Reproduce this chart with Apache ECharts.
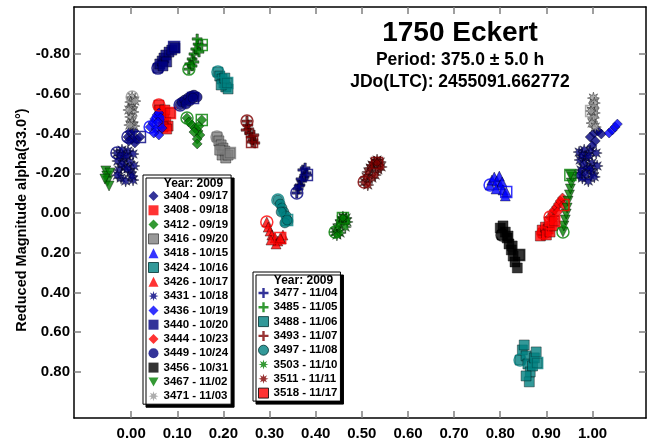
<!DOCTYPE html>
<html>
<head>
<meta charset="utf-8">
<script src="https://cdn.jsdelivr.net/npm/echarts@6/dist/echarts.min.js"></script>
<style>
  html, body { margin: 0; padding: 0; background: #fff; }
  #chart { width: 654px; height: 443px; }
</style>
</head>
<body>
<div id="chart"></div>
<script>
// tick labels
const xTicks = [0.0, 0.1, 0.2, 0.3, 0.4, 0.5, 0.6, 0.7, 0.8, 0.9, 1.0];
const yTicks = [-0.8, -0.6, -0.4, -0.2, 0.0, 0.2, 0.4, 0.6, 0.8];

// sessions, [phase, reduced mag]
const s3404 = [[-0.007,-0.383],[0.995,-0.383],[1.004,-0.403],[1.012,-0.413],[1.019,-0.398],[1.006,-0.363],[0.999,-0.338],[-0.003,-0.408],[0.006,-0.413],[0.002,-0.373],[0.008,-0.353],[-0.005,-0.363],[0.012,-0.373],[0.019,-0.383]];
const s3408 = [[0.060,-0.544],[0.062,-0.519],[0.067,-0.494],[0.071,-0.474],[0.075,-0.458],[0.080,-0.438],[0.069,-0.433],[0.077,-0.423],[0.073,-0.519],[0.084,-0.504]];
const s3412 = [[0.121,-0.479],[0.125,-0.458],[0.132,-0.443],[0.138,-0.428],[0.145,-0.413],[0.149,-0.393],[0.143,-0.373],[0.143,-0.348],[0.136,-0.408],[0.147,-0.438],[0.153,-0.469]];
const s3416 = [[0.186,-0.383],[0.190,-0.363],[0.195,-0.343],[0.199,-0.327],[0.203,-0.312],[0.197,-0.292],[0.205,-0.277],[0.210,-0.292],[0.192,-0.317],[0.214,-0.302]];
const s3418 = [[0.778,-0.141],[0.782,-0.166],[0.787,-0.181],[0.793,-0.161],[0.798,-0.186],[0.800,-0.141],[0.804,-0.156],[0.806,-0.116],[0.811,-0.086],[0.791,-0.121],[0.813,-0.106]];
const s3424 = [[0.188,-0.710],[0.192,-0.690],[0.197,-0.675],[0.201,-0.655],[0.205,-0.635],[0.210,-0.625],[0.195,-0.645],[0.203,-0.680],[0.208,-0.655]];
const s3426 = [[0.294,0.045],[0.297,0.071],[0.301,0.091],[0.305,0.111],[0.312,0.126],[0.318,0.141],[0.325,0.131],[0.314,0.156],[0.303,0.136],[0.329,0.111],[0.323,0.126]];
const s3431 = [[-0.031,-0.302],[-0.020,-0.317],[-0.007,-0.312],[0.004,-0.297],[-0.029,-0.262],[-0.016,-0.277],[-0.003,-0.257],[0.006,-0.237],[-0.027,-0.217],[-0.014,-0.232],[-0.001,-0.207],[-0.022,-0.176],[-0.012,-0.161],[0.004,-0.166],
  [-0.024,-0.290],[-0.010,-0.288],[-0.020,-0.247],[-0.008,-0.222],[-0.030,-0.190],[0.002,-0.186],
  [0.971,-0.307],[0.982,-0.317],[0.995,-0.312],[1.008,-0.302],[0.973,-0.267],[0.986,-0.277],[0.999,-0.252],[1.010,-0.237],[0.975,-0.217],[0.989,-0.227],[1.001,-0.202],[0.978,-0.176],[0.991,-0.161],
  [0.978,-0.290],[0.992,-0.288],[0.981,-0.247],[0.995,-0.222],[0.970,-0.192],[1.004,-0.182],[0.985,-0.196]];
const s3436 = [[0.041,-0.433],[0.047,-0.453],[0.051,-0.474],[1.036,-0.403],[1.043,-0.418],[1.049,-0.433],[1.054,-0.448],[0.056,-0.494],[0.060,-0.504],[0.064,-0.479],[0.054,-0.423],[0.060,-0.393],[0.067,-0.428],[0.049,-0.403],[0.058,-0.458]];
const s3440 = [[0.058,-0.730],[0.062,-0.751],[0.067,-0.766],[0.071,-0.781],[0.075,-0.796],[0.082,-0.811],[0.088,-0.821],[0.095,-0.831],[0.077,-0.761],[0.069,-0.741],[0.093,-0.836]];
const s3444 = [[0.908,0.020],[0.913,0.000],[0.917,-0.015],[0.922,-0.030],[0.926,-0.045],[0.930,-0.060],[0.935,-0.076],[0.924,-0.005],[0.915,0.030],[0.937,-0.040]];
const s3449 = [[0.106,-0.544],[0.110,-0.559],[0.116,-0.569],[0.123,-0.579],[0.130,-0.589],[0.136,-0.594],[0.119,-0.549],[0.127,-0.564],[0.143,-0.584],[0.134,-0.579]];
const s3456 = [[0.804,0.111],[0.800,0.076],[0.806,0.065],[0.811,0.096],[0.815,0.126],[0.819,0.156],[0.824,0.186],[0.828,0.217],[0.832,0.247],[0.837,0.277],[0.817,0.116],[0.826,0.166],[0.841,0.212]];
const s3467 = [[0.936,0.096],[0.938,0.065],[0.941,0.035],[0.943,0.005],[0.945,-0.025],[0.947,-0.060],[0.950,-0.091],[0.952,-0.121],[0.954,-0.151],[0.956,-0.181],[-0.055,-0.212],[-0.053,-0.186],[-0.051,-0.161],[-0.048,-0.136],[-0.046,-0.202],[-0.057,-0.171],[0.952,-0.191]];
const s3471 = [[0.002,-0.584],[-0.001,-0.559],[0.002,-0.534],[0.004,-0.509],[-0.001,-0.484],[0.002,-0.458],[0.006,-0.438],[-0.005,-0.519],[0.008,-0.564],[-0.003,-0.443],
  [1.002,-0.579],[1.004,-0.554],[1.002,-0.529],[1.004,-0.504],[1.002,-0.479],[0.999,-0.453],[1.006,-0.433],[0.997,-0.514]];
const s3477 = [[0.359,-0.101],[0.362,-0.121],[0.366,-0.141],[0.370,-0.161],[0.375,-0.181],[0.379,-0.202],[0.372,-0.217],[0.368,-0.171],[0.364,-0.136],[0.377,-0.227],[0.381,-0.191]];
const s3485 = [[0.125,-0.725],[0.127,-0.751],[0.132,-0.776],[0.136,-0.801],[0.140,-0.826],[0.145,-0.851],[0.143,-0.877],[0.136,-0.761],[0.147,-0.811],[0.132,-0.741],[0.153,-0.846]];
const s3488 = [[0.843,0.741],[0.848,0.690],[0.852,0.665],[0.856,0.720],[0.860,0.761],[0.865,0.801],[0.870,0.771],[0.874,0.730],[0.878,0.700],[0.863,0.851],[0.856,0.821],[0.880,0.756]];
const s3493 = [[0.251,-0.463],[0.253,-0.443],[0.255,-0.423],[0.257,-0.403],[0.260,-0.383],[0.264,-0.368],[0.268,-0.353],[0.249,-0.418],[0.266,-0.393],[0.262,-0.358]];
const s3497 = [[0.318,-0.065],[0.323,-0.045],[0.327,-0.025],[0.331,-0.005],[0.336,0.015],[0.340,0.040],[0.333,0.050],[0.325,-0.005],[0.338,0.035]];
const s3503 = [[0.442,0.096],[0.446,0.076],[0.451,0.055],[0.455,0.035],[0.459,0.020],[0.466,0.025],[0.468,0.045],[0.464,0.071],[0.453,0.101],[0.446,0.111],[0.459,0.025]];
const s3511 = [[0.505,-0.156],[0.509,-0.181],[0.513,-0.207],[0.518,-0.227],[0.522,-0.242],[0.527,-0.257],[0.533,-0.267],[0.540,-0.257],[0.535,-0.217],[0.522,-0.176],[0.513,-0.141],[0.529,-0.191],[0.542,-0.232],[0.533,-0.252]];
const s3518 = [[0.893,0.101],[0.887,0.116],[0.891,0.086],[0.898,0.071],[0.904,0.081],[0.900,0.111],[0.908,0.096],[0.913,0.065],[0.906,0.045],[0.917,0.040]];

const namesLeft = ['3404 - 09/17', '3408 - 09/18', '3412 - 09/19', '3416 - 09/20', '3418 - 10/15', '3424 - 10/16', '3426 - 10/17', '3431 - 10/18', '3436 - 10/19', '3440 - 10/20', '3444 - 10/23', '3449 - 10/24', '3456 - 10/31', '3467 - 11/02', '3471 - 11/03'];
const namesRight = ['3477 - 11/04', '3485 - 11/05', '3488 - 11/06', '3493 - 11/07', '3497 - 11/08', '3503 - 11/10', '3511 - 11/11', '3518 - 11/17'];

const pointsByName = {
  '3404 - 09/17': s3404, '3408 - 09/18': s3408, '3412 - 09/19': s3412, '3416 - 09/20': s3416,
  '3418 - 10/15': s3418, '3424 - 10/16': s3424, '3426 - 10/17': s3426, '3431 - 10/18': s3431,
  '3436 - 10/19': s3436, '3440 - 10/20': s3440, '3444 - 10/23': s3444, '3449 - 10/24': s3449,
  '3456 - 10/31': s3456, '3467 - 11/02': s3467, '3471 - 11/03': s3471, '3477 - 11/04': s3477,
  '3485 - 11/05': s3485, '3488 - 11/06': s3488, '3493 - 11/07': s3493, '3497 - 11/08': s3497,
  '3503 - 11/10': s3503, '3511 - 11/11': s3511, '3518 - 11/17': s3518
};

const FONT = 'Liberation Sans, Arial, sans-serif';
const NAVY = '#000080', RED = '#ff0000', GREEN = '#008000', GRAY = '#808080';
const BLUE = '#0000ff', TEAL = '#008080', MAROON = '#800000';
const STAR = 'path://M20,10L14.16,11.72L17.07,17.07L11.72,14.16L10,20L8.28,14.16L2.93,17.07L5.84,11.72L0,10L5.84,8.28L2.93,2.93L8.28,5.84L10,0L11.72,5.84L17.07,2.93L14.16,8.28Z';
const PLUS = 'path://M3.8,0H6.2V3.8H10V6.2H6.2V10H3.8V6.2H0V3.8H3.8Z';
const TRI_DOWN = 'path://M0,0L10,0L5,9Z';

const looks = {
  '3404 - 09/17': { color: NAVY, symbol: 'diamond' },
  '3408 - 09/18': { color: RED, symbol: 'rect' },
  '3412 - 09/19': { color: GREEN, symbol: 'diamond' },
  '3416 - 09/20': { color: GRAY, symbol: 'rect', edge: '#404040' },
  '3418 - 10/15': { color: BLUE, symbol: 'triangle' },
  '3424 - 10/16': { color: TEAL, symbol: 'rect', edge: '#003030' },
  '3426 - 10/17': { color: RED, symbol: 'triangle' },
  '3431 - 10/18': { color: NAVY, symbol: STAR },
  '3436 - 10/19': { color: BLUE, symbol: 'diamond' },
  '3440 - 10/20': { color: NAVY, symbol: 'rect' },
  '3444 - 10/23': { color: RED, symbol: 'diamond' },
  '3449 - 10/24': { color: NAVY, symbol: 'circle' },
  '3456 - 10/31': { color: '#000', symbol: 'rect' },
  '3467 - 11/02': { color: GREEN, symbol: TRI_DOWN },
  '3471 - 11/03': { color: '#999', symbol: STAR },
  '3477 - 11/04': { color: NAVY, symbol: PLUS },
  '3485 - 11/05': { color: GREEN, symbol: PLUS },
  '3488 - 11/06': { color: TEAL, symbol: 'rect', edge: '#003030' },
  '3493 - 11/07': { color: MAROON, symbol: PLUS },
  '3497 - 11/08': { color: TEAL, symbol: 'circle', edge: '#003030' },
  '3503 - 11/10': { color: GREEN, symbol: STAR },
  '3511 - 11/11': { color: MAROON, symbol: STAR },
  '3518 - 11/17': { color: RED, symbol: 'rect', edge: '#000' }
};

const series = [];
namesLeft.concat(namesRight).forEach(function (name) {
  const look = looks[name];
  const pts = pointsByName[name];
  series.push({
    name: name,
    type: 'scatter',
    symbol: look.symbol,
    symbolSize: look.symbol === STAR ? 12 : 10,
    itemStyle: { color: look.color, borderColor: 'rgba(0,0,0,0.8)', borderWidth: 0.6 },
    data: pts,
    z: 3
  });
  // open circle on first point, open square on last point
  series.push({
    name: name + ' marks',
    type: 'scatter',
    silent: true,
    itemStyle: { color: 'rgba(0,0,0,0)', borderColor: look.color, borderWidth: 1.5 },
    data: [
      { value: pts[0], symbol: 'circle', symbolSize: 12 },
      { value: pts[pts.length - 1], symbol: 'rect', symbolSize: 11 }
    ],
    z: 4
  });
});

function legendItems(names) {
  return names.map(function (name) {
    const look = looks[name];
    return {
      name: name,
      icon: look.symbol,
      itemStyle: { color: look.color, borderColor: look.edge || look.color, borderWidth: look.edge ? 1 : 0 }
    };
  });
}

const legendBase = {
  orient: 'vertical',
  selectedMode: false,
  itemWidth: 10,
  itemHeight: 10,
  itemGap: 2.3,
  padding: [15, 3, 2, 5],
  backgroundColor: '#fff',
  borderColor: '#000',
  borderWidth: 1,
  borderRadius: 0,
  shadowColor: '#000',
  shadowBlur: 0,
  shadowOffsetX: 3,
  shadowOffsetY: 3,
  textStyle: { fontFamily: FONT, fontSize: 11.5, fontWeight: 'bold', color: '#000', lineHeight: 12 }
};

const tickStyle = { color: '#808080', width: 1.5 };
const lineStyle = { color: '#000', width: 1.5 };
const labelStyle = { fontFamily: FONT, fontSize: 15, fontWeight: 'bold', color: '#000' };

const chart = echarts.init(document.getElementById('chart'));
chart.setOption({
  animation: false,
  backgroundColor: '#fff',
  textStyle: { fontFamily: FONT },
  title: {
    text: '1750 Eckert',
    subtext: 'Period: 375.0 ± 5.0 h\nJDo(LTC): 2455091.662772',
    left: 455,
    top: 14,
    textAlign: 'center',
    itemGap: 2,
    textStyle: { fontFamily: FONT, fontSize: 28, fontWeight: 'bold', color: '#000' },
    subtextStyle: { fontFamily: FONT, fontSize: 17.5, fontWeight: 'bold', color: '#000', lineHeight: 22 }
  },
  grid: { left: 74, right: 8, top: 7, bottom: 25, containLabel: false, outerBoundsMode: 'none' },
  xAxis: [{
    type: 'value', position: 'bottom', min: -0.124, max: 1.116,
    axisLine: { show: true, onZero: false, lineStyle: lineStyle },
    axisTick: { show: true, inside: true, length: 7, customValues: xTicks, lineStyle: tickStyle },
    axisLabel: Object.assign({ customValues: xTicks, margin: 8, formatter: function (v) { return v.toFixed(2); } }, labelStyle),
    splitLine: { show: false }
  }, {
    type: 'value', position: 'top', min: -0.124, max: 1.116,
    axisLine: { show: true, onZero: false, lineStyle: lineStyle },
    axisTick: { show: true, inside: true, length: 7, customValues: xTicks, lineStyle: tickStyle },
    axisLabel: { show: false },
    splitLine: { show: false }
  }],
  yAxis: [{
    type: 'value', position: 'left', inverse: true, min: -1.038, max: 1.033,
    axisLine: { show: true, onZero: false, lineStyle: lineStyle },
    axisTick: { show: true, inside: true, length: 7, customValues: yTicks, lineStyle: tickStyle },
    axisLabel: Object.assign({ customValues: yTicks, margin: 4, formatter: function (v) { return v.toFixed(2); } }, labelStyle),
    splitLine: { show: false }
  }, {
    type: 'value', position: 'right', inverse: true, min: -1.038, max: 1.033,
    axisLine: { show: true, onZero: false, lineStyle: lineStyle },
    axisTick: { show: true, inside: true, length: 7, customValues: yTicks, lineStyle: tickStyle },
    axisLabel: { show: false },
    splitLine: { show: false }
  }],
  legend: [
    Object.assign({ left: 143, top: 175, data: legendItems(namesLeft) }, legendBase),
    Object.assign({ left: 253, top: 272, data: legendItems(namesRight) }, legendBase)
  ],
  graphic: [
    { type: 'text', x: 193.5, y: 184, z: 100, style: { text: 'Year: 2009', align: 'center', verticalAlign: 'middle', font: 'bold 12px ' + FONT, fill: '#000' } },
    { type: 'text', x: 303.5, y: 281, z: 100, style: { text: 'Year: 2009', align: 'center', verticalAlign: 'middle', font: 'bold 12px ' + FONT, fill: '#000' } },
    { type: 'text', x: 22, y: 220, rotation: Math.PI / 2, z: 100, style: { text: 'Reduced Magnitude alpha(33.0°)', align: 'center', verticalAlign: 'middle', font: 'bold 14.5px ' + FONT, fill: '#000' } }
  ],
  series: series
});
</script>
</body>
</html>
